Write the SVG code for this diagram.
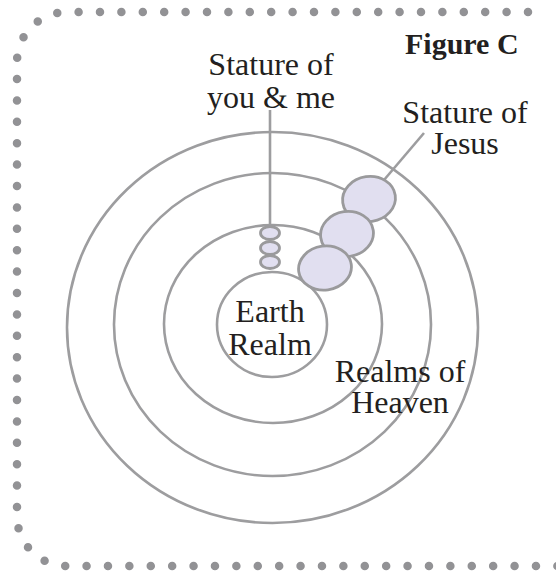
<svg xmlns="http://www.w3.org/2000/svg" width="556" height="571" viewBox="0 0 556 571">
<style>
.ring{fill:none;stroke:#9d9d9f;stroke-width:2.6}
.blob{fill:#e1dff0;stroke:#9a9a9c;stroke-width:2.8}
.lead{fill:none;stroke:#9d9d9f;stroke-width:2.6}
.t{font-family:"Liberation Serif","Times New Roman",serif;font-size:32px;fill:#231f20;text-anchor:middle}
.title{font-family:"Liberation Serif","Times New Roman",serif;font-size:30px;font-weight:bold;fill:#231f20}
</style>
<rect width="556" height="571" fill="#ffffff"/>
<path id="border" d="M 528 12 H 67 A 50 50 0 0 0 17 62 V 516 A 50 50 0 0 0 67 566 H 600" fill="none" stroke="#929295" stroke-width="8.5" stroke-linecap="round" stroke-dasharray="0 21.4"/>
<g id="realms">
<ellipse id="ring4" class="ring" cx="272.5" cy="327.5" rx="205.5" ry="195.5"/>
<ellipse id="ring3" class="ring" cx="272.5" cy="324.5" rx="158.5" ry="151.5"/>
<ellipse id="ring2" class="ring" cx="273" cy="324" rx="109" ry="99"/>
<ellipse id="earth" class="ring" cx="272" cy="324.5" rx="55" ry="52.5"/>
</g>
<g id="connectors">
<line class="lead" x1="270" y1="110" x2="270" y2="227"/>
<line class="lead" x1="424" y1="133" x2="384" y2="180"/>
</g>
<g id="you-and-me">
<ellipse class="blob" cx="270" cy="233" rx="9.5" ry="6.5"/>
<ellipse class="blob" cx="270" cy="248" rx="9.5" ry="6.5"/>
<ellipse class="blob" cx="270" cy="262" rx="9.5" ry="6.5"/>
</g>
<g id="jesus">
<ellipse class="blob" cx="369" cy="199" rx="26.5" ry="22.5" transform="rotate(-8 369 199)"/>
<ellipse class="blob" cx="347" cy="234" rx="26.5" ry="22.5" transform="rotate(-8 347 234)"/>
<ellipse class="blob" cx="325" cy="268" rx="26.5" ry="22" transform="rotate(-8 325 268)"/>
</g>
<g id="labels">
<text class="title" x="405" y="54">Figure C</text>
<text class="t" x="271" y="75">Stature of</text>
<text class="t" x="271" y="108">you &amp; me</text>
<text class="t" x="465" y="123">Stature of</text>
<text class="t" x="465" y="154">Jesus</text>
<text class="t" x="270" y="322">Earth</text>
<text class="t" x="270" y="355">Realm</text>
<text class="t" x="400" y="382">Realms of</text>
<text class="t" x="400" y="413">Heaven</text>
</g>
</svg>
